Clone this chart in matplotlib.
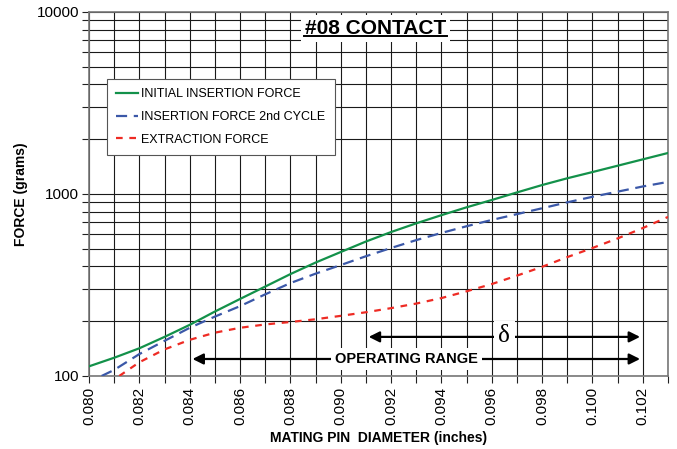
import matplotlib
matplotlib.use("Agg")
import matplotlib.pyplot as plt
from matplotlib.ticker import FixedLocator, LogLocator, NullFormatter, FixedFormatter

plt.rcParams['font.family'] = ['Liberation Sans', 'DejaVu Sans']

# ---- data ----
x_green = [0.080, 0.081, 0.082, 0.083, 0.084, 0.085, 0.086, 0.087, 0.088, 0.089, 0.090, 0.091,
           0.092, 0.093, 0.094, 0.095, 0.096, 0.097, 0.098, 0.099, 0.100, 0.101, 0.102, 0.103]
initial_insertion = [113, 126, 142, 164, 191, 226, 265, 310, 363, 420, 480, 548,
                     618, 690, 765, 845, 927, 1020, 1120, 1220, 1320, 1430, 1550, 1680]

x_blue = [0.0805, 0.081, 0.082, 0.083, 0.084, 0.085, 0.086, 0.087, 0.088, 0.089, 0.090, 0.091,
          0.092, 0.093, 0.094, 0.095, 0.096, 0.097, 0.098, 0.099, 0.100, 0.101, 0.102, 0.103]
insertion_2nd = [100, 108, 132, 156, 184, 212, 242, 281, 324, 365, 407, 455,
                 505, 558, 611, 665, 720, 775, 835, 900, 965, 1030, 1100, 1165]

x_red = [0.0812, 0.082, 0.083, 0.084, 0.085, 0.086, 0.087, 0.088, 0.089, 0.090, 0.091,
         0.092, 0.093, 0.094, 0.095, 0.096, 0.097, 0.098, 0.099, 0.100, 0.101, 0.102, 0.103]
extraction = [100, 119, 140, 158, 173, 184, 192, 198, 205, 214, 224,
              236, 250, 268, 292, 320, 356, 398, 450, 505, 570, 650, 748]

series_labels = ["INITIAL INSERTION FORCE", "INSERTION FORCE 2nd CYCLE", "EXTRACTION FORCE"]
x_tick_values = [0.080, 0.082, 0.084, 0.086, 0.088, 0.090, 0.092, 0.094, 0.096, 0.098, 0.100, 0.102]
x_tick_labels = ["0.080", "0.082", "0.084", "0.086", "0.088", "0.090", "0.092", "0.094",
                 "0.096", "0.098", "0.100", "0.102"]
y_tick_values = [100, 1000, 10000]
y_tick_labels = ["100", "1000", "10000"]

delta_range = (0.091, 0.102)
operating_range = (0.084, 0.102)

# ---- figure ----
fig = plt.figure(figsize=(6.77, 4.49), dpi=100)
ax = fig.add_axes([0.1315, 0.1626, 0.8552, 0.8107])
ax.set_yscale('log')
ax.set_xlim(0.080, 0.103)
ax.set_ylim(100, 10000)

ax.plot(x_green, initial_insertion, color='#13914a', lw=1.6, label=series_labels[0], zorder=3)
ax.plot(x_blue, insertion_2nd, color='#3b58a8', lw=1.6, ls=(0, (5, 3)), label=series_labels[1], zorder=3)
ax.plot(x_red, extraction, color='#ee2b24', lw=1.6, ls=(0, (3, 3)), label=series_labels[2], zorder=3)

# ticks
ax.xaxis.set_major_locator(FixedLocator(x_tick_values))
ax.xaxis.set_major_formatter(FixedFormatter(x_tick_labels))
ax.xaxis.set_minor_locator(FixedLocator([0.080 + 0.001 * i for i in range(24)]))
ax.yaxis.set_major_locator(FixedLocator(y_tick_values))
ax.yaxis.set_major_formatter(FixedFormatter(y_tick_labels))
ax.yaxis.set_minor_locator(LogLocator(base=10, subs=range(2, 10)))
ax.yaxis.set_minor_formatter(NullFormatter())
ax.tick_params(axis='both', which='both', direction='out', length=5, width=0.8, color='#222222')
ax.tick_params(axis='x', labelsize=11, labelrotation=90, pad=3)
ax.tick_params(axis='y', labelsize=11, pad=2)

ax.grid(True, which='both', color='#1a1a1a', lw=0.8, zorder=0)
ax.set_axisbelow(True)
for s in ax.spines.values():
    s.set_color('#777777')
    s.set_linewidth(1.2)

ax.set_xlabel("MATING PIN  DIAMETER (inches)", fontsize=10, fontweight='bold', labelpad=4)
ax.set_ylabel("FORCE (grams)", fontsize=10, fontweight='bold', labelpad=6)

# title
ax.text(0.4945, 0.9396, "#08 CONTACT", transform=ax.transAxes, ha='center', va='baseline',
        fontsize=15, fontweight='bold',
        bbox=dict(facecolor='white', edgecolor='none', pad=3), zorder=5)
ax.plot([0.371, 0.618], [0.934, 0.934], transform=ax.transAxes, color='black', lw=1.4, zorder=6)

# legend
leg = ax.legend(loc='upper left', bbox_to_anchor=(0.031, 0.816), borderaxespad=0, fontsize=9,
                frameon=True, fancybox=False, edgecolor='#555555', framealpha=1, handlelength=1.7,
                labelspacing=0.85, borderpad=0.75, handletextpad=0.3)
leg.get_frame().set_linewidth(0.8)
leg.set_zorder(5)

# delta arrow
ax.annotate("", xy=(delta_range[0], 164), xytext=(0.0962, 164),
            arrowprops=dict(arrowstyle='-|>', color='black', lw=1.6, mutation_scale=16), zorder=4)
ax.annotate("", xy=(delta_range[1], 164), xytext=(0.0962, 164),
            arrowprops=dict(arrowstyle='-|>', color='black', lw=1.6, mutation_scale=16), zorder=4)
ax.text(0.0965, 166, "δ", ha='center', va='center', fontsize=18, family='Liberation Serif',
        bbox=dict(facecolor='white', edgecolor='none', pad=3), zorder=5)

# operating range arrow
ax.annotate("", xy=(operating_range[0], 124), xytext=(0.093, 124),
            arrowprops=dict(arrowstyle='-|>', color='black', lw=1.6, mutation_scale=16), zorder=4)
ax.annotate("", xy=(operating_range[1], 124), xytext=(0.093, 124),
            arrowprops=dict(arrowstyle='-|>', color='black', lw=1.6, mutation_scale=16), zorder=4)
ax.text(0.0926, 124, "OPERATING RANGE", ha='center', va='center', fontsize=10.5, fontweight='bold',
        bbox=dict(facecolor='white', edgecolor='none', pad=3), zorder=5)

fig.savefig("out.png", dpi=100)
